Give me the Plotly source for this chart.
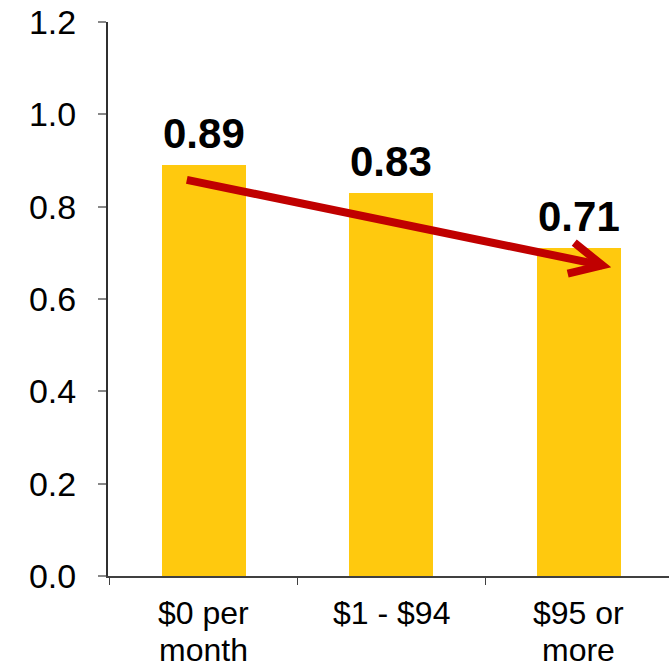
import plotly.graph_objects as go

# Average value by monthly spending group
categories = ["$0 per month", "$1 - $94", "$95 or more"]
category_lines = [["$0 per", "month"], ["$1 - $94"], ["$95 or", "more"]]
values = [0.89, 0.83, 0.71]
value_labels = ["0.89", "0.83", "0.71"]

# Trend arrow endpoints (x in category index units, y in value units)
arrow_start = (-0.09, 0.858)
arrow_tip = (2.125, 0.673)
arrow_arm_a = (1.975, 0.722)
arrow_arm_b = (1.94, 0.655)

BAR_COLOR = "#FFC90E"
ARROW_COLOR = "#C00000"
FONT = "Liberation Sans, Arial, sans-serif"

fig = go.Figure()
fig.add_trace(go.Bar(
    x=categories,
    y=values,
    width=0.448,
    marker=dict(color=BAR_COLOR, line=dict(width=0)),
    hoverinfo="skip",
))

# Bold value labels above bars
for cat, v, lab in zip(categories, values, value_labels):
    fig.add_annotation(
        x=cat, y=v, text=f"<b>{lab}</b>", showarrow=False,
        xanchor="center", yanchor="bottom", yshift=6,
        font=dict(family=FONT, size=42, color="black"),
    )

# Category labels below the axis, one annotation per line
for cat, lines in zip(categories, category_lines):
    for j, line in enumerate(lines):
        fig.add_annotation(
            x=cat, y=0, yref="y", text=line, showarrow=False,
            xanchor="center", yanchor="middle", yshift=-37 - 37 * j,
            font=dict(family=FONT, size=32, color="black"),
        )

# Trend arrow: shaft plus open chevron head
fig.add_shape(type="line", xref="x", yref="y",
              x0=arrow_start[0], y0=arrow_start[1],
              x1=arrow_tip[0], y1=arrow_tip[1],
              line=dict(color=ARROW_COLOR, width=8))
fig.add_shape(type="path", xref="x", yref="y",
              path=(f"M {arrow_arm_a[0]},{arrow_arm_a[1]} "
                    f"L {arrow_tip[0]},{arrow_tip[1]} "
                    f"L {arrow_arm_b[0]},{arrow_arm_b[1]}"),
              line=dict(color=ARROW_COLOR, width=8))

fig.update_layout(
    width=669, height=665,
    margin=dict(l=108, r=0, t=22, b=89),
    paper_bgcolor="white", plot_bgcolor="white",
    showlegend=False,
    font=dict(family=FONT, color="black"),
    bargap=0,
)
fig.update_xaxes(
    type="category",
    range=[-0.51, 2.48],
    showticklabels=False,
    showgrid=False, zeroline=False,
    showline=True, linecolor="#404040", linewidth=2,
    ticks="outside", tickson="boundaries",
    ticklen=7, tickcolor="#404040", tickwidth=1,
    fixedrange=True,
)
fig.update_yaxes(
    range=[0, 1.2],
    tickmode="array",
    tickvals=[0, 0.2, 0.4, 0.6, 0.8, 1.0, 1.2],
    tickformat=".1f",
    tickfont=dict(family=FONT, size=34, color="black"),
    showgrid=False, zeroline=False,
    showline=True, linecolor="#303030", linewidth=2,
    ticks="outside", ticklen=8, tickcolor="#888888", tickwidth=2,
    ticklabelstandoff=15,
    fixedrange=True,
)

fig.write_html("out.html")
